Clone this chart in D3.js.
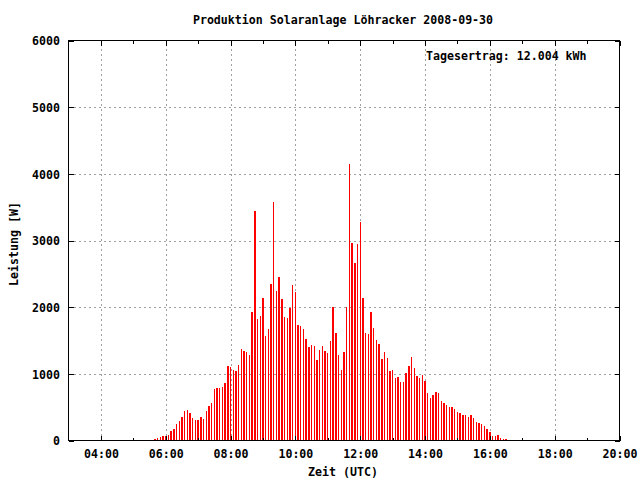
<!DOCTYPE html>
<html>
<head>
<meta charset="utf-8">
<script src="https://cdn.jsdelivr.net/npm/d3@7/dist/d3.min.js"></script>
<style>
html,body{margin:0;padding:0;background:#fff;}
svg text{font-family:"DejaVu Sans Mono","Liberation Mono",monospace;font-weight:bold;font-size:11.6px;fill:#000;}
</style>
</head>
<body>
<svg id="chart" width="640" height="480"></svg>
<script>
const title = "Produktion Solaranlage Löhracker 2008-09-30";
const xLabel = "Zeit (UTC)";
const yLabel = "Leistung [W]";
const note = "Tagesertrag: 12.004 kWh";

const times = [
"05:30","05:35","05:40","05:45","05:50","05:55",
"06:00","06:05","06:10","06:15","06:20","06:25","06:30","06:35","06:40","06:45","06:50","06:55",
"07:00","07:05","07:10","07:15","07:20","07:25","07:30","07:35","07:40","07:45","07:50","07:55",
"08:00","08:05","08:10","08:15","08:20","08:25","08:30","08:35","08:40","08:45","08:50","08:55",
"09:00","09:05","09:10","09:15","09:20","09:25","09:30","09:35","09:40","09:45","09:50","09:55",
"10:00","10:05","10:10","10:15","10:20","10:25","10:30","10:35","10:40","10:45","10:50","10:55",
"11:00","11:05","11:10","11:15","11:20","11:25","11:30","11:35","11:40","11:45","11:50","11:55",
"12:00","12:05","12:10","12:15","12:20","12:25","12:30","12:35","12:40","12:45","12:50","12:55",
"13:00","13:05","13:10","13:15","13:20","13:25","13:30","13:35","13:40","13:45","13:50","13:55",
"14:00","14:05","14:10","14:15","14:20","14:25","14:30","14:35","14:40","14:45","14:50","14:55",
"15:00","15:05","15:10","15:15","15:20","15:25","15:30","15:35","15:40","15:45","15:50","15:55",
"16:00","16:05","16:10","16:15","16:20","16:25","16:30","16:35","16:40","16:45"
];

const power = [
15,15,20,45,60,75,
75,90,150,180,255,300,360,450,465,420,345,310,
310,360,330,450,525,570,780,795,795,810,870,1115,
1100,1065,1050,1140,1380,1350,1335,1290,1935,3450,1830,1875,
2145,1575,1680,2355,3585,2250,2460,2130,1860,1845,1995,2340,
2235,1740,1725,1680,1530,1410,1440,1425,1215,1365,1425,1350,
1320,1500,2000,1620,1290,1065,1335,2010,4155,2970,2670,2955,
3285,2145,1620,1605,1935,1695,1515,1455,1230,1335,1245,1050,
1065,945,960,885,885,1020,1125,1260,1095,975,945,990,
900,720,645,690,735,720,600,570,540,510,510,480,
435,420,390,390,360,390,345,285,270,255,225,180,
135,75,75,90,45,30,30,15,15,15
];

const xDomainLabels = ["03:00","20:00"];
const xMajorTicks = ["04:00","06:00","08:00","10:00","12:00","14:00","16:00","18:00","20:00"];
const xMinorTicks = ["04:00","05:00","06:00","07:00","08:00","09:00","10:00","11:00","12:00","13:00","14:00","15:00","16:00","17:00","18:00","19:00","20:00"];
const yTicks = [0,1000,2000,3000,4000,5000,6000];
const yDomain = [0,6000];

const toMin = s => { const p = s.split(":"); return +p[0]*60 + +p[1]; };

const L = 68.5, R = 619.5, T = 40.5, B = 440.5;
const svg = d3.select("#chart");
const x = d3.scaleLinear().domain(xDomainLabels.map(toMin)).range([L, R]);
const y = d3.scaleLinear().domain(yDomain).range([B, T]);

// grid
const grid = svg.append("g").attr("stroke","#a0a0a0").attr("stroke-width",1).attr("stroke-dasharray","2,3").attr("shape-rendering","crispEdges");
grid.selectAll("line.gx").data(xMajorTicks.filter(t => toMin(t) < 1200)).enter().append("line")
  .attr("x1", d => Math.round(x(toMin(d))) + 0.5).attr("x2", d => Math.round(x(toMin(d))) + 0.5)
  .attr("y1", B).attr("y2", T);
grid.selectAll("line.gy").data(yTicks.filter(v => v > 0 && v < 6000)).enter().append("line")
  .attr("x1", L).attr("x2", R)
  .attr("y1", d => Math.round(y(d)) + 0.5).attr("y2", d => Math.round(y(d)) + 0.5);

// bars (impulses)
svg.append("g").selectAll("rect").data(power).enter().append("rect")
  .attr("x", (d,i) => x(toMin(times[i])) - 0.7)
  .attr("width", 1.4)
  .attr("y", d => y(d))
  .attr("height", d => B - y(d))
  .attr("fill", "#ff0000")
  .attr("shape-rendering","crispEdges");

// axes
const fmt = m => String(Math.floor(m/60)).padStart(2,"0") + ":" + String(m%60).padStart(2,"0");
const xAxis = d3.axisBottom(x).tickValues(xMajorTicks.map(toMin)).tickFormat(fmt).tickSize(0).tickPadding(0);
const gx = svg.append("g").attr("transform", `translate(0,${B})`).call(xAxis);
gx.select(".domain").remove();
gx.selectAll("text").attr("y", 17.5).attr("dy", null);

const yAxis = d3.axisLeft(y).tickValues(yTicks).tickFormat(d3.format("d")).tickSize(0).tickPadding(0);
const gy = svg.append("g").attr("transform", `translate(${L},0)`).call(yAxis);
gy.select(".domain").remove();
gy.selectAll("text").attr("x", -8.5).attr("dy", "0.36em");
svg.selectAll(".tick text").style("font-family",'"DejaVu Sans Mono","Liberation Mono",monospace').style("font-weight","bold").style("font-size","11.6px").attr("fill","#000");

// ticks
const tk = svg.append("g").attr("stroke","#000").attr("stroke-width",1).attr("shape-rendering","crispEdges");
xMinorTicks.forEach(t => {
  const m = toMin(t);
  const len = xMajorTicks.includes(t) ? 5 : 3;
  const xx = Math.round(x(m)) + 0.5;
  tk.append("line").attr("x1",xx).attr("x2",xx).attr("y1",B).attr("y2",B-len);
  tk.append("line").attr("x1",xx).attr("x2",xx).attr("y1",T).attr("y2",T+len);
});
yTicks.forEach(v => {
  const yy = Math.round(y(v)) + 0.5;
  tk.append("line").attr("x1",L).attr("x2",L+5).attr("y1",yy).attr("y2",yy);
  tk.append("line").attr("x1",R).attr("x2",R-5).attr("y1",yy).attr("y2",yy);
});

// border
svg.append("rect").attr("x",L).attr("y",T).attr("width",R-L).attr("height",B-T)
  .attr("fill","none").attr("stroke","#000").attr("stroke-width",1).attr("shape-rendering","crispEdges");

// texts
svg.append("text").attr("x", 343).attr("y", 24).attr("text-anchor","middle").text(title);
svg.append("text").attr("x", 426).attr("y", 60).text(note);
svg.append("text").attr("x", 343).attr("y", 476).attr("text-anchor","middle").text(xLabel);
svg.append("text").attr("transform","translate(18,244) rotate(-90)").attr("text-anchor","middle").text(yLabel);
</script>
</body>
</html>
